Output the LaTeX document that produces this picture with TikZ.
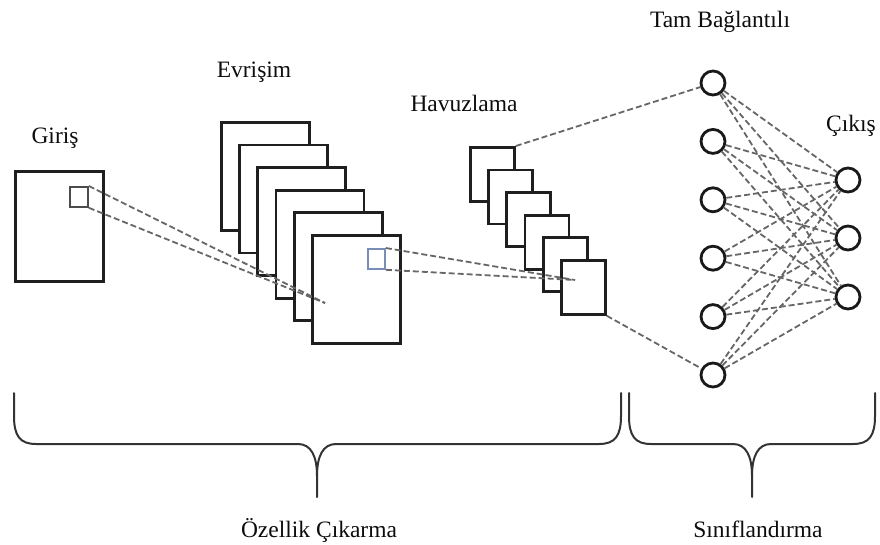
\documentclass[tikz,border=0pt]{standalone}
\usepackage{fontspec}
\setmainfont{Liberation Serif}
\definecolor{winblue}{RGB}{120,142,182}
\begin{document}
\begin{tikzpicture}[x=1pt,y=-1pt,
  lbl/.style={anchor=base, inner sep=0pt, text=black!95, font=\fontsize{23.5}{28}\selectfont},
  mapbox/.style={draw=black!88, line width=2.8pt, fill=white, inner sep=0pt, anchor=north west},
  bigmap/.style={mapbox, minimum width=88pt, minimum height=108pt},
  smallmap/.style={mapbox, minimum width=44pt, minimum height=54pt},
  window/.style={draw=#1, line width=1.8pt, inner sep=0pt, anchor=north west,
    minimum width=17pt, minimum height=20pt},
  neuron/.style={circle, draw=black!90, line width=2.8pt, fill=white, minimum size=24pt, inner sep=0pt},
  link/.style={draw=black!60, line width=1.8pt, dash pattern=on 6pt off 3pt},
  bracepath/.style={draw=black!80, line width=2pt, line cap=round, line join=round}]
\useasboundingbox (0,0) rectangle (880,544);

% input image with its receptive window
\node[bigmap, minimum height=110pt] (in) at (14,170) {};
\node[window=black!70, minimum width=18pt] (inwin) at (69,186) {};

% convolution feature maps
\foreach \i in {0,...,5}
  \node[bigmap] (c\i) at ({220+18.2*\i},{121+22.6*\i}) {};
\node[window=winblue] (cwin) at (367,248) {};

% pooled feature maps
\foreach \i in {0,...,5}
  \node[smallmap] (p\i) at ({469+18.2*\i},{146+22.6*\i}) {};

% projections of the windows
\coordinate (cfocus) at (325,303);
\coordinate (pfocus) at (575,280);
\draw[link] (inwin.north east) -- (cfocus);
\draw[link] (inwin.south east) -- (cfocus);
\draw[link] (cwin.north east) -- (pfocus);
\draw[link] (cwin.south east) -- (pfocus);

% fully connected and output layers
\foreach \i in {1,...,6}
  \node[neuron] (f\i) at (713,{83+58.4*(\i-1)}) {};
\foreach \j/\y in {1/180, 2/238, 3/297}
  \node[neuron] (o\j) at (848,\y) {};

\draw[link] (p0.north east) -- (f1);
\draw[link] (p5.south east) -- (f6);
\foreach \i in {1,...,6}
  \foreach \j in {1,2,3}
    \draw[link] (f\i) -- (o\j);

% labels
\node[lbl] (tgiris) at (55,143) {Giriş};
\node[lbl] (tevr) at (254,77) {Evrişim};
\node[lbl] (thav) at (464,111) {Havuzlama};
\node[lbl] (ttam) at (720,27) {Tam Bağlantılı};
\node[lbl] (tcik) at (851,131) {Çıkış};
\node[lbl] (tozel) at (319,537) {Özellik Çıkarma};
\node[lbl] (tsinif) at (758,537) {Sınıflandırma};

% braces grouping the two stages
\draw[bracepath] (14,393) -- (14,416) .. controls (14,436) and (20,444) .. (36,444)
  -- (298,444) .. controls (311,444) and (317,456) .. (317,476) -- (317,497);
\draw[bracepath] (317,476) .. controls (317,456) and (323,444) .. (336,444)
  -- (599,444) .. controls (615,444) and (621,436) .. (621,416) -- (621,393);
\draw[bracepath] (629,393) -- (629,416) .. controls (629,436) and (635,444) .. (651,444)
  -- (733,444) .. controls (746,444) and (752,456) .. (752,476) -- (752,497);
\draw[bracepath] (752,476) .. controls (752,456) and (758,444) .. (771,444)
  -- (853,444) .. controls (869,444) and (875,436) .. (875,416) -- (875,393);
\end{tikzpicture}
\end{document}
